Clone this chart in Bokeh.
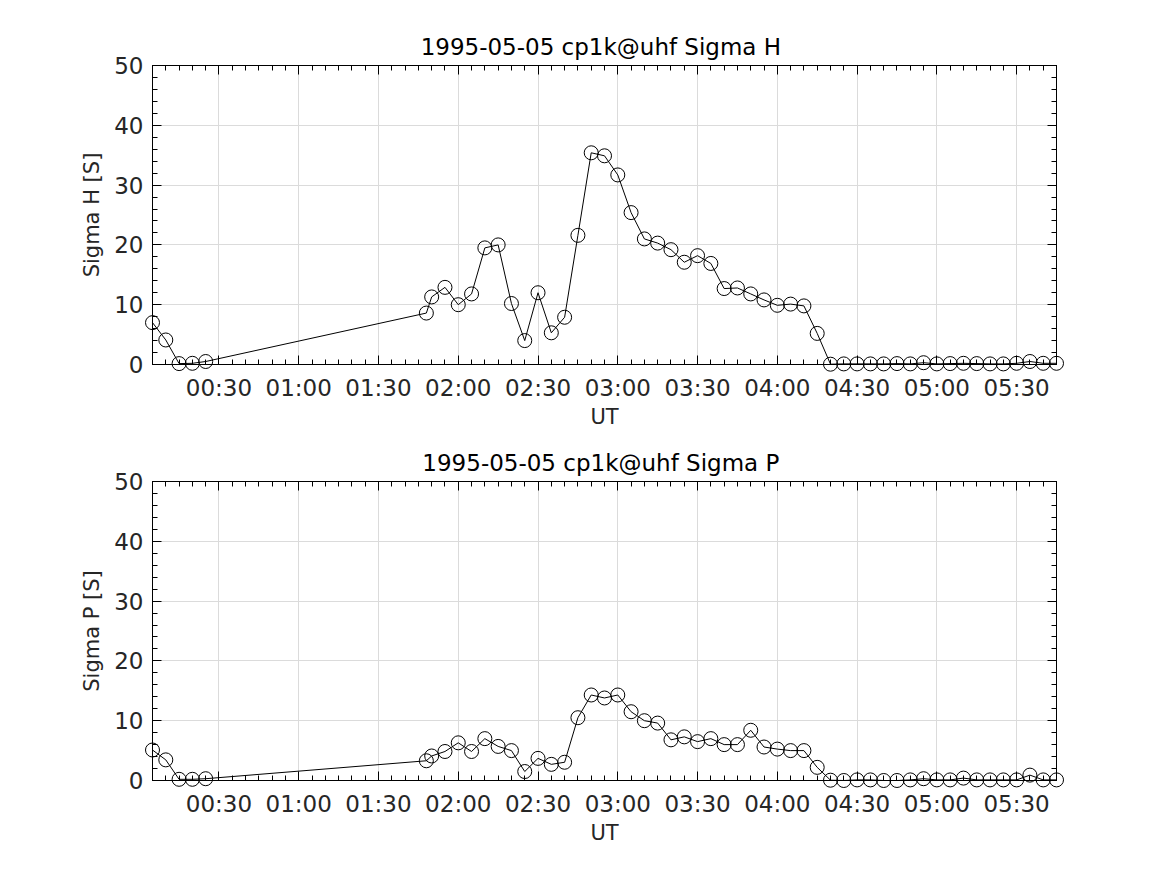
from bokeh.plotting import figure
from bokeh.models import Range1d, FixedTicker, LinearAxis
from bokeh.layouts import column
from bokeh.embed import file_html
from bokeh.resources import INLINE

# ---- data (UT times, conductances in Siemens) ----
times = ["00:05", "00:10", "00:15", "00:20", "00:25",
         "01:48", "01:50", "01:55", "02:00",
         "02:05", "02:10", "02:15", "02:20", "02:25", "02:30", "02:35", "02:40",
         "02:45", "02:50", "02:55", "03:00", "03:05", "03:10", "03:15", "03:20",
         "03:25", "03:30", "03:35", "03:40", "03:45", "03:50", "03:55", "04:00",
         "04:05", "04:10", "04:15",
         "04:20", "04:25", "04:30", "04:35", "04:40", "04:45", "04:50", "04:55",
         "05:00", "05:05", "05:10", "05:15", "05:20", "05:25", "05:30", "05:35",
         "05:40", "05:45"]

sigma_h = [7.0, 4.1, 0.15, 0.2, 0.5,
           8.6, 11.3, 12.9, 10.0,
           11.8, 19.5, 20.0, 10.2, 4.0, 12.0, 5.3, 7.9,
           21.6, 35.4, 34.9, 31.7, 25.4, 21.0, 20.3, 19.2,
           17.1, 18.2, 16.9, 12.7, 12.8, 11.8, 10.8, 9.9,
           10.1, 9.8, 5.2,
           0.05, 0.1, 0.1, 0.1, 0.1, 0.15, 0.1, 0.3,
           0.1, 0.15, 0.2, 0.15, 0.1, 0.1, 0.2, 0.5,
           0.2, 0.2]

sigma_p = [5.1, 3.45, 0.2, 0.2, 0.3,
           3.3, 4.1, 4.85, 6.3,
           4.85, 7.0, 5.7, 5.0, 1.5, 3.7, 2.7, 3.05,
           10.5, 14.3, 13.8, 14.3, 11.5, 10.0, 9.6, 6.8,
           7.3, 6.5, 7.0, 6.0, 6.0, 8.4, 5.6, 5.25,
           5.0, 5.0, 2.2,
           0.05, 0.0, 0.1, 0.1, 0.0, 0.0, 0.1, 0.3,
           0.1, 0.1, 0.4, 0.1, 0.1, 0.1, 0.1, 0.9,
           0.1, 0.1]

x_tick_labels = ["00:30", "01:00", "01:30", "02:00", "02:30",
                 "03:00", "03:30", "04:00", "04:30", "05:00", "05:30"]
y_ticks = [0, 10, 20, 30, 40, 50]

titles = ["1995-05-05  cp1k@uhf Sigma H", "1995-05-05  cp1k@uhf Sigma P"]
y_labels = ["Sigma H [S]", "Sigma P [S]"]
x_label = "UT"


def to_min(s):
    h, m = s.split(":")
    return int(h) * 60 + int(m)


t = [to_min(s) for s in times]
xt = [to_min(s) for s in x_tick_labels]
x_minor = list(range(t[0], t[-1] + 1, 5))
y_minor = list(range(0, 51, 2))

FONT = "DejaVu Sans"
TICK_FS = "23px"
LABEL_FS = "21px"
TITLE_FS = "23px"
TXT = "#262626"


def style_axis(ax, show_labels):
    ax.axis_line_color = "black"
    ax.axis_line_width = 1
    ax.major_tick_in = 9
    ax.major_tick_out = 0
    ax.minor_tick_in = 5
    ax.minor_tick_out = 0
    ax.major_tick_line_color = "black"
    ax.minor_tick_line_color = "black"
    ax.major_label_text_font = FONT
    ax.axis_label_text_font = FONT
    ax.axis_label_text_font_size = LABEL_FS
    ax.axis_label_text_font_style = "normal"
    ax.axis_label_text_color = TXT
    if show_labels:
        ax.major_label_text_font_size = TICK_FS
        ax.major_label_text_color = TXT
    else:
        ax.major_label_text_font_size = "0px"
        ax.major_label_text_color = None
        ax.major_label_standoff = 0


def make(title, ylabel, vals, border_top, border_bottom):
    p = figure(frame_width=904, frame_height=299,
               output_backend="svg", toolbar_location=None,
               x_range=Range1d(t[0], t[-1]), y_range=Range1d(0, 50),
               min_border_left=152, min_border_right=100,
               min_border_top=border_top, min_border_bottom=border_bottom,
               x_axis_label=x_label, y_axis_label=ylabel)
    p.title.text = title
    p.title.text_font = FONT
    p.title.text_font_size = TITLE_FS
    p.title.text_font_style = "normal"
    p.title.text_color = "black"
    p.title.align = "center"
    p.title.standoff = 12

    xtick = FixedTicker(ticks=xt, minor_ticks=x_minor)
    ytick = FixedTicker(ticks=y_ticks, minor_ticks=y_minor)
    overrides = {m: s for m, s in zip(xt, x_tick_labels)}

    p.xaxis.ticker = xtick
    p.yaxis.ticker = ytick
    p.xaxis.major_label_overrides = overrides
    p.xgrid.ticker = xtick
    p.ygrid.ticker = ytick
    p.xgrid.grid_line_color = "#dbdbdb"
    p.ygrid.grid_line_color = "#dbdbdb"

    for ax in p.xaxis:
        style_axis(ax, True)
        ax.major_label_standoff = 10
        ax.axis_label_standoff = 1
    for ax in p.yaxis:
        style_axis(ax, True)
        ax.major_label_standoff = 9
        ax.axis_label_standoff = 7

    top = LinearAxis(ticker=xtick)
    style_axis(top, False)
    p.add_layout(top, "above")
    right = LinearAxis(ticker=ytick)
    style_axis(right, False)
    p.add_layout(right, "right")

    p.outline_line_color = "black"
    p.outline_line_width = 1
    p.background_fill_color = "white"
    p.border_fill_color = "white"

    p.line(t, vals, line_color="black", line_width=1, level="overlay")
    p.scatter(t, vals, marker="circle", size=14, fill_color=None,
              line_color="black", line_width=1, level="overlay")
    return p


p1 = make(titles[0], y_labels[0], sigma_h, 65, 72)
p2 = make(titles[1], y_labels[1], sigma_p, 45, 72)
layout = column(p1, p2, spacing=0)

open("out.html", "w").write(file_html(layout, INLINE))
